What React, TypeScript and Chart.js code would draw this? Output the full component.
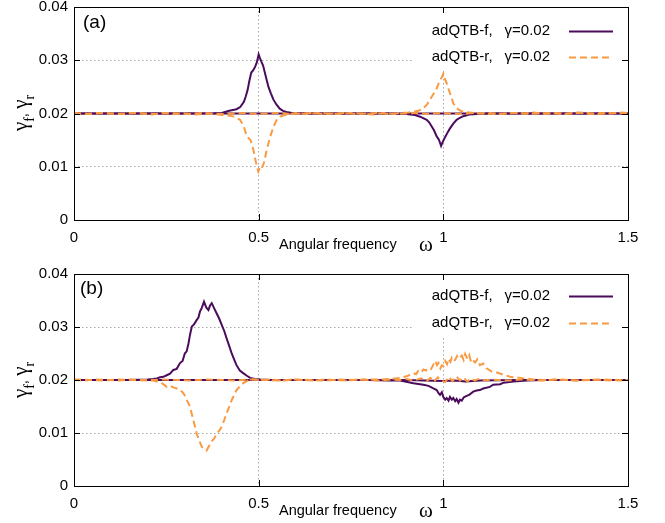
import React, { useEffect, useRef } from 'react';
import { Chart, registerables } from 'chart.js';

Chart.register(...registerables);

// ---------- data ----------
const xTickValues = [0, 0.5, 1, 1.5];
const xTickLabels = ['0', '0.5', '1', '1.5'];
const yTickValues = [0, 0.01, 0.02, 0.03, 0.04];
const yTickLabels = ['0', '0.01', '0.02', '0.03', '0.04'];
const legendLabels = ['adQTB-f,', 'adQTB-r,'];
const legendGamma = ['\u03b3=0.02', '\u03b3=0.02'];
const panelTags = ['(a)', '(b)'];
const xTitle = 'Angular frequency';
const xTitleSymbol = '\u03c9';

// Panel (a)
const aFreqF1 = [0, 0.3, 0.38, 0.40, 0.42, 0.44, 0.45, 0.46, 0.465, 0.47, 0.475, 0.48, 0.485, 0.49, 0.495, 0.5, 0.503, 0.507, 0.512, 0.517, 0.522, 0.527, 0.533, 0.54, 0.548, 0.557, 0.566, 0.575, 0.59, 0.61, 0.65, 1.0, 1.5];
const aGammaF1 = [0.02, 0.02, 0.02005, 0.0201, 0.0205, 0.0208, 0.0212, 0.0222, 0.0232, 0.0244, 0.0262, 0.0277, 0.0281, 0.0287, 0.0296, 0.0311, 0.0305, 0.0298, 0.0290, 0.0276, 0.0262, 0.0249, 0.0238, 0.0226, 0.0217, 0.0209, 0.0205, 0.0203, 0.0201, 0.02005, 0.02, 0.02, 0.02];

const aFreqF2 = [0, 0.5, 0.85, 0.9, 0.923, 0.937, 0.955, 0.962, 0.969, 0.975, 0.982, 0.988, 0.994, 0.998, 1.005, 1.012, 1.018, 1.027, 1.036, 1.045, 1.054, 1.07, 1.09, 1.12, 1.5];
const aGammaF2 = [0.02, 0.02, 0.02, 0.0199, 0.0197, 0.0194, 0.0188, 0.0183, 0.0175, 0.0168, 0.0157, 0.0151, 0.0139, 0.0146, 0.0156, 0.0165, 0.0172, 0.0181, 0.0188, 0.0192, 0.0195, 0.0198, 0.0199, 0.02, 0.02];

const aFreqR1 = [0, 0.03, 0.06, 0.09, 0.12, 0.15, 0.18, 0.21, 0.24, 0.27, 0.30, 0.33, 0.36, 0.38, 0.40, 0.42, 0.435, 0.45, 0.46, 0.468, 0.478, 0.486, 0.493, 0.499, 0.504, 0.508, 0.514, 0.522, 0.531, 0.54, 0.549, 0.558, 0.57, 0.585, 0.60, 0.63, 0.66, 0.69, 0.72, 0.75, 0.78, 0.81, 0.84, 0.87, 0.90, 0.93, 0.96, 0.99, 1.02, 1.05, 1.08, 1.11, 1.14, 1.17, 1.20, 1.23, 1.26, 1.29, 1.32, 1.35, 1.38, 1.41, 1.44, 1.47, 1.50];
const aGammaR1 = [0.0200, 0.0199, 0.0201, 0.0200, 0.0199, 0.0201, 0.0200, 0.0198, 0.0201, 0.0199, 0.0200, 0.0198, 0.0200, 0.0199, 0.0197, 0.0196, 0.0194, 0.0188, 0.0175, 0.0157, 0.0150, 0.0131, 0.0107, 0.0091, 0.0100, 0.0097, 0.0107, 0.0132, 0.0156, 0.0175, 0.0188, 0.0194, 0.0197, 0.0199, 0.0201, 0.0199, 0.0201, 0.0200, 0.0199, 0.0201, 0.0200, 0.0198, 0.0201, 0.0199, 0.0200, 0.0201, 0.0199, 0.0201, 0.0200, 0.0199, 0.0201, 0.0200, 0.0199, 0.0200, 0.0201, 0.0199, 0.0200, 0.0201, 0.0199, 0.0200, 0.0202, 0.0199, 0.0200, 0.0201, 0.0200];

const aFreqR2 = [0, 0.015, 0.045, 0.075, 0.105, 0.135, 0.165, 0.195, 0.225, 0.255, 0.285, 0.315, 0.345, 0.375, 0.405, 0.435, 0.465, 0.495, 0.525, 0.555, 0.585, 0.615, 0.645, 0.675, 0.705, 0.735, 0.765, 0.795, 0.825, 0.855, 0.885, 0.905, 0.92, 0.932, 0.943, 0.955, 0.962, 0.969, 0.976, 0.982, 0.987, 0.991, 0.996, 1.0, 1.004, 1.009, 1.014, 1.018, 1.023, 1.027, 1.034, 1.041, 1.054, 1.07, 1.095, 1.125, 1.155, 1.185, 1.215, 1.245, 1.275, 1.305, 1.335, 1.365, 1.395, 1.425, 1.455, 1.485, 1.5];
const aGammaR2 = [0.0201, 0.0200, 0.0199, 0.0201, 0.0200, 0.0199, 0.0201, 0.0200, 0.0199, 0.0201, 0.0200, 0.0199, 0.0201, 0.0200, 0.0199, 0.0200, 0.0201, 0.0199, 0.0200, 0.0201, 0.0199, 0.0200, 0.0201, 0.0199, 0.0200, 0.0201, 0.0199, 0.0200, 0.0201, 0.0199, 0.0201, 0.0202, 0.0203, 0.0205, 0.0208, 0.0216, 0.0224, 0.0232, 0.0240, 0.0247, 0.0256, 0.0263, 0.0268, 0.0275, 0.0266, 0.0257, 0.0246, 0.0238, 0.0228, 0.0219, 0.0212, 0.0207, 0.0203, 0.0202, 0.0200, 0.0201, 0.0199, 0.0201, 0.0200, 0.0202, 0.0199, 0.0201, 0.0200, 0.0202, 0.0199, 0.0201, 0.0200, 0.0202, 0.0201];

// Panel (b)
const bFreqF1 = [0, 0.15, 0.2, 0.215, 0.224, 0.233, 0.242, 0.251, 0.26, 0.269, 0.278, 0.287, 0.294, 0.3, 0.305, 0.31, 0.314, 0.319, 0.325, 0.332, 0.337, 0.341, 0.346, 0.352, 0.358, 0.364, 0.368, 0.373, 0.379, 0.386, 0.393, 0.4, 0.407, 0.413, 0.42, 0.427, 0.434, 0.44, 0.449, 0.458, 0.468, 0.477, 0.49, 0.504, 0.53, 0.6, 0.9, 0.95, 1.0, 1.03, 1.06, 1.1, 1.2, 1.5];
const bGammaF1 = [0.02, 0.02, 0.0201, 0.0202, 0.0203, 0.0205, 0.0206, 0.0209, 0.0212, 0.0219, 0.0221, 0.0232, 0.0236, 0.0250, 0.0254, 0.0269, 0.0285, 0.0301, 0.0305, 0.0313, 0.0318, 0.0329, 0.0336, 0.0348, 0.0337, 0.0332, 0.0340, 0.0345, 0.0336, 0.0326, 0.0316, 0.0304, 0.0292, 0.0279, 0.0265, 0.0250, 0.0238, 0.0228, 0.0218, 0.0213, 0.0208, 0.0204, 0.0202, 0.0201, 0.02, 0.02, 0.02, 0.0199, 0.0198, 0.0199, 0.0197, 0.0199, 0.02, 0.02];

const bFreqF2 = [0, 0.4, 0.8, 0.85, 0.883, 0.919, 0.946, 0.96, 0.973, 0.982, 0.987, 0.991, 0.996, 1.0, 1.005, 1.009, 1.014, 1.018, 1.023, 1.027, 1.032, 1.036, 1.041, 1.045, 1.05, 1.055, 1.063, 1.07, 1.081, 1.09, 1.099, 1.108, 1.126, 1.135, 1.154, 1.163, 1.19, 1.226, 1.27, 1.5];
const bGammaF2 = [0.02, 0.02, 0.02, 0.0199, 0.0199, 0.0194, 0.0191, 0.0189, 0.0184, 0.0181, 0.0175, 0.0172, 0.0177, 0.0168, 0.0163, 0.0166, 0.0161, 0.0168, 0.0163, 0.0166, 0.0160, 0.0164, 0.0157, 0.0163, 0.0161, 0.0167, 0.0170, 0.0172, 0.0178, 0.0180, 0.0181, 0.0184, 0.0187, 0.0191, 0.0192, 0.0195, 0.0197, 0.0199, 0.02, 0.02];

const bFreqR1 = [0, 0.03, 0.06, 0.09, 0.12, 0.15, 0.18, 0.2, 0.215, 0.224, 0.232, 0.24, 0.251, 0.26, 0.269, 0.278, 0.287, 0.294, 0.3, 0.307, 0.314, 0.318, 0.323, 0.328, 0.332, 0.339, 0.346, 0.352, 0.359, 0.366, 0.373, 0.38, 0.386, 0.393, 0.4, 0.407, 0.413, 0.42, 0.427, 0.434, 0.44, 0.449, 0.458, 0.468, 0.477, 0.49, 0.5, 0.53, 0.56, 0.59, 0.62, 0.65, 0.68, 0.71, 0.74, 0.77, 0.8, 0.83, 0.86, 0.88, 0.9, 0.92, 0.94, 0.955, 0.965, 0.975, 0.985, 0.995, 1.005, 1.015, 1.025, 1.035, 1.045, 1.055, 1.065, 1.075, 1.085, 1.095, 1.11, 1.13, 1.15, 1.18, 1.21, 1.24, 1.27, 1.3, 1.33, 1.36, 1.39, 1.42, 1.45, 1.48, 1.5];
const bGammaR1 = [0.0200, 0.0199, 0.0201, 0.0200, 0.0199, 0.0201, 0.0200, 0.0200, 0.0199, 0.0197, 0.0196, 0.0193, 0.0187, 0.0189, 0.0186, 0.0184, 0.0181, 0.0177, 0.0171, 0.0160, 0.0150, 0.0138, 0.0125, 0.0111, 0.0099, 0.0086, 0.0074, 0.0070, 0.0067, 0.0076, 0.0084, 0.0090, 0.0099, 0.0104, 0.0112, 0.0125, 0.0137, 0.0149, 0.0162, 0.0172, 0.0181, 0.0188, 0.0194, 0.0198, 0.0202, 0.0201, 0.0200, 0.0201, 0.0199, 0.0201, 0.0200, 0.0199, 0.0201, 0.0200, 0.0199, 0.0201, 0.0200, 0.0199, 0.0201, 0.0200, 0.0202, 0.0199, 0.0203, 0.0198, 0.0204, 0.0197, 0.0205, 0.0199, 0.0196, 0.0206, 0.0198, 0.0207, 0.0199, 0.0205, 0.0197, 0.0203, 0.0199, 0.0202, 0.0199, 0.0201, 0.0200, 0.0199, 0.0201, 0.0200, 0.0199, 0.0201, 0.0200, 0.0199, 0.0200, 0.0201, 0.0199, 0.0200, 0.0200];

const bFreqR2 = [0, 0.04, 0.08, 0.12, 0.16, 0.2, 0.24, 0.28, 0.32, 0.36, 0.4, 0.44, 0.48, 0.52, 0.56, 0.6, 0.64, 0.68, 0.72, 0.76, 0.8, 0.829, 0.856, 0.883, 0.901, 0.919, 0.926, 0.932, 0.94, 0.946, 0.953, 0.96, 0.967, 0.973, 0.978, 0.983, 0.987, 0.992, 0.996, 1.0, 1.005, 1.01, 1.014, 1.019, 1.023, 1.028, 1.032, 1.037, 1.041, 1.046, 1.05, 1.055, 1.059, 1.065, 1.07, 1.075, 1.079, 1.086, 1.092, 1.099, 1.108, 1.117, 1.124, 1.131, 1.145, 1.163, 1.181, 1.208, 1.244, 1.28, 1.32, 1.36, 1.4, 1.44, 1.48, 1.5];
const bGammaR2 = [0.0201, 0.0200, 0.0199, 0.0201, 0.0200, 0.0199, 0.0201, 0.0200, 0.0199, 0.0201, 0.0200, 0.0199, 0.0201, 0.0200, 0.0199, 0.0201, 0.0200, 0.0199, 0.0201, 0.0200, 0.0201, 0.0201, 0.0202, 0.0204, 0.0207, 0.0213, 0.0211, 0.0217, 0.0214, 0.0220, 0.0218, 0.0223, 0.0221, 0.0229, 0.0236, 0.0228, 0.0232, 0.0222, 0.0228, 0.0226, 0.0236, 0.0230, 0.0240, 0.0234, 0.0242, 0.0236, 0.0238, 0.0245, 0.0240, 0.0243, 0.0246, 0.0238, 0.0249, 0.0240, 0.0247, 0.0234, 0.0238, 0.0233, 0.0239, 0.0228, 0.0231, 0.0222, 0.0219, 0.0216, 0.0214, 0.0210, 0.0206, 0.0204, 0.0201, 0.0200, 0.0201, 0.0199, 0.0200, 0.0201, 0.0199, 0.0200];

// ---------- styles ----------
const PURPLE = '#4b0c5c';
const ORANGE = '#fa9a42';
const GRID = '#a8a8a8';
const SANS = '"Liberation Sans", Arial, Helvetica, sans-serif';
const SERIF = '"Liberation Serif", "DejaVu Serif", serif';
const W = 665;

type Pt = { x: number; y: number };
function zip(xs: number[], ys: number[]): Pt[] {
  const n = Math.min(xs.length, ys.length);
  const out: Pt[] = [];
  for (let i = 0; i < n; i++) out.push({ x: xs[i], y: ys[i] });
  return out;
}

type PanelDef = {
  tag: string;
  top: number;
  height: number;
  plotTop: number;
  plotBottom: number;
  f: [number[], number[]][];
  r: [number[], number[]][];
  legendRows: number[];
  tagDx: number;
  tagDy: number;
};

const panels: PanelDef[] = [
  {
    tag: panelTags[0], top: 0, height: 261, plotTop: 7, plotBottom: 220,
    f: [[aFreqF1, aGammaF1], [aFreqF2, aGammaF2]],
    r: [[aFreqR1, aGammaR1], [aFreqR2, aGammaR2]],
    legendRows: [24, 50], tagDx: 9, tagDy: 16,
  },
  {
    tag: panelTags[1], top: 261, height: 262, plotTop: 13, plotBottom: 225,
    f: [[bFreqF1, bGammaF1], [bFreqF2, bGammaF2]],
    r: [[bFreqR1, bGammaR1], [bFreqR2, bGammaR2]],
    legendRows: [22, 49], tagDx: 6, tagDy: 15,
  },
];

function makeDecor(def: PanelDef) {
  return {
    id: 'decor',
    beforeDatasetsDraw(chart: any) {
      const { ctx, chartArea: a } = chart;
      ctx.save();
      ctx.fillStyle = '#ffffff';
      ctx.fillRect(a.right - 216, a.top + 6, 210, 56);
      ctx.restore();
    },
    afterDatasetsDraw(chart: any) {
      const { ctx, chartArea: a, scales } = chart;
      ctx.save();
      // frame
      ctx.strokeStyle = '#000';
      ctx.lineWidth = 1;
      ctx.setLineDash([]);
      ctx.strokeRect(a.left + 0.5, a.top + 0.5, a.right - a.left, a.bottom - a.top);
      // inward ticks
      ctx.beginPath();
      xTickValues.forEach((v) => {
        const px = Math.round(scales.x.getPixelForValue(v)) + 0.5;
        ctx.moveTo(px, a.bottom); ctx.lineTo(px, a.bottom - 6);
        ctx.moveTo(px, a.top); ctx.lineTo(px, a.top + 6);
      });
      yTickValues.forEach((v) => {
        const py = Math.round(scales.y.getPixelForValue(v)) + 0.5;
        ctx.moveTo(a.left, py); ctx.lineTo(a.left + 6, py);
        ctx.moveTo(a.right, py); ctx.lineTo(a.right - 6, py);
      });
      ctx.stroke();

      // legend
      const colors = [PURPLE, ORANGE];
      const dashes = [[], [7, 4]];
      for (let i = 0; i < 2; i++) {
        const y = a.top + def.legendRows[i];
        ctx.fillStyle = '#000';
        ctx.font = `15px ${SANS}`;
        ctx.textBaseline = 'middle';
        ctx.textAlign = 'right';
        ctx.fillText(legendGamma[i], a.right - 78, y);
        const gw = ctx.measureText(legendGamma[i]).width;
        ctx.fillText(legendLabels[i], a.right - 78 - gw - 12, y);
        ctx.strokeStyle = colors[i];
        ctx.lineWidth = 2;
        ctx.setLineDash(dashes[i]);
        ctx.beginPath();
        ctx.moveTo(a.right - 59, y + 0.5);
        ctx.lineTo(a.right - 15, y + 0.5);
        ctx.stroke();
        ctx.setLineDash([]);
      }

      // panel tag
      ctx.fillStyle = '#000';
      ctx.font = `19px ${SANS}`;
      ctx.textAlign = 'left';
      ctx.textBaseline = 'middle';
      ctx.fillText(def.tag, a.left + def.tagDx, a.top + def.tagDy);

      // x title
      ctx.font = `14.5px ${SANS}`;
      ctx.textBaseline = 'alphabetic';
      ctx.fillText(xTitle, a.left + 205, a.bottom + 29);
      ctx.font = `21px ${SERIF}`;
      ctx.fillText(xTitleSymbol, a.left + 345, a.bottom + 31);

      // y title (rotated, with subscripts)
      ctx.translate(27, a.top + 106);
      ctx.rotate(-Math.PI / 2);
      const parts = [
        { t: '\u03b3', f: `21px ${SERIF}`, dy: 0 },
        { t: 'f', f: `14px ${SERIF}`, dy: 7 },
        { t: ', ', f: `15px ${SANS}`, dy: 0 },
        { t: '\u03b3', f: `21px ${SERIF}`, dy: 0 },
        { t: 'r', f: `14px ${SERIF}`, dy: 7 },
      ];
      let total = 0;
      parts.forEach((p) => { ctx.font = p.f; total += ctx.measureText(p.t).width; });
      let x = -total / 2;
      parts.forEach((p) => {
        ctx.font = p.f;
        ctx.fillText(p.t, x, p.dy);
        x += ctx.measureText(p.t).width;
      });
      ctx.restore();
    },
  };
}

function Panel({ def }: { def: PanelDef }) {
  const ref = useRef<HTMLCanvasElement | null>(null);
  useEffect(() => {
    const canvas = ref.current;
    if (!canvas) return;
    const line = (pts: Pt[], color: string, dash: number[]) => ({
      data: pts,
      borderColor: color,
      borderWidth: 2,
      borderDash: dash,
      pointRadius: 0,
      tension: 0,
      fill: false,
    });
    const datasets = [
      line(zip(def.r[1][0], def.r[1][1]), ORANGE, [7, 4]),
      line(zip(def.r[0][0], def.r[0][1]), ORANGE, [7, 4]),
      line(zip(def.f[1][0], def.f[1][1]), PURPLE, []),
      line(zip(def.f[0][0], def.f[0][1]), PURPLE, []),
    ];
    const chart = new Chart(canvas, {
      type: 'line',
      data: { datasets: datasets as any },
      options: {
        animation: false,
        responsive: false,
        maintainAspectRatio: false,
        layout: { padding: { top: def.plotTop, right: W - 628, left: 0, bottom: 0 } },
        plugins: { legend: { display: false }, tooltip: { enabled: false }, title: { display: false } },
        scales: {
          x: {
            type: 'linear',
            min: 0,
            max: 1.5,
            afterBuildTicks: (s: any) => { s.ticks = xTickValues.map((v) => ({ value: v })); },
            afterFit: (s: any) => { s.height = def.height - def.plotBottom; s.paddingLeft = 0; s.paddingRight = 0; },
            ticks: {
              autoSkip: false,
              maxRotation: 0,
              padding: 9,
              color: '#000',
              font: { family: SANS, size: 15 },
              callback: (_v: any, i: number) => xTickLabels[i],
            },
            grid: {
              drawTicks: false,
              lineWidth: 1,
              color: (c: any) => (c.tick && c.tick.value > 0 && c.tick.value < 1.5 ? GRID : 'rgba(0,0,0,0)'),
            },
            border: { display: false, dash: [1.5, 2.5] },
          },
          y: {
            type: 'linear',
            min: 0,
            max: 0.04,
            afterBuildTicks: (s: any) => { s.ticks = yTickValues.map((v) => ({ value: v })); },
            afterFit: (s: any) => { s.width = 74; s.paddingTop = 0; s.paddingBottom = 0; },
            ticks: {
              autoSkip: false,
              padding: 6,
              color: '#000',
              font: { family: SANS, size: 15 },
              callback: (_v: any, i: number) => yTickLabels[i],
            },
            grid: {
              drawTicks: false,
              lineWidth: 1,
              color: (c: any) => (c.tick && c.tick.value > 0.001 && c.tick.value < 0.039 ? GRID : 'rgba(0,0,0,0)'),
            },
            border: { display: false, dash: [1.5, 2.5] },
          },
        },
      } as any,
      plugins: [makeDecor(def)],
    });
    return () => chart.destroy();
  }, [def]);
  return (
    <canvas
      ref={ref}
      width={W}
      height={def.height}
      style={{ position: 'absolute', left: 0, top: def.top, width: W, height: def.height, display: 'block' }}
    />
  );
}

export default function App() {
  return (
    <div style={{ position: 'absolute', left: 0, top: 0, width: W, height: 523, background: '#fff' }}>
      {panels.map((p) => (
        <Panel key={p.tag} def={p} />
      ))}
    </div>
  );
}
